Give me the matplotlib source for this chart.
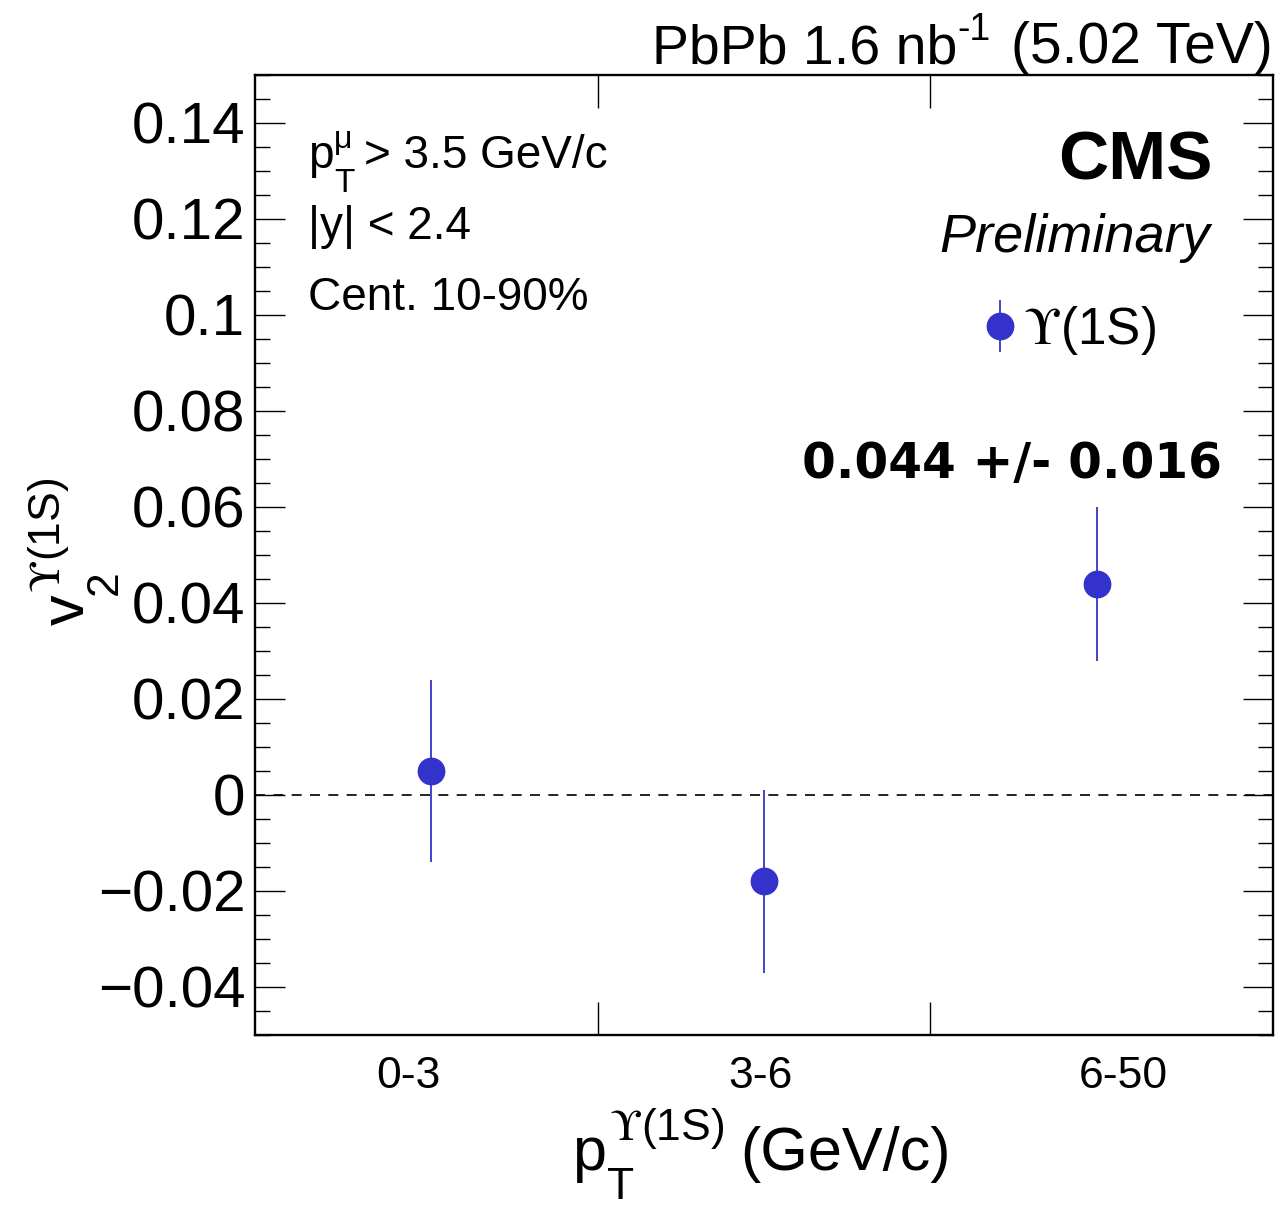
import matplotlib
matplotlib.use('Agg')
import matplotlib.pyplot as plt
from matplotlib.ticker import MultipleLocator, FixedLocator, FuncFormatter

# pT bins and measured v2 of Upsilon(1S)
bins = ['0-3', '3-6', '6-50']
bin_centers = [0.5, 1.5, 2.5]
bin_edges = [1, 2]
label_pos = [0.43, 1.49, 2.58]
v2 = [0.005, -0.018, 0.044]
v2_err = [0.019, 0.019, 0.016]

plt.rcParams['font.family'] = ['Liberation Sans', 'DejaVu Sans']
plt.rcParams['mathtext.fontset'] = 'custom'
plt.rcParams['mathtext.rm'] = 'Liberation Sans'
plt.rcParams['mathtext.it'] = 'Liberation Sans:italic'
plt.rcParams['mathtext.bf'] = 'Liberation Sans:bold'
plt.rcParams['mathtext.sf'] = 'STIXGeneral'

blue = '#3333cc'
ups = r'$\mathsf{ϒ}\mathrm{(1S)}$'

W, H = 1280, 1208
fig = plt.figure(figsize=(W / 100, H / 100), dpi=100)
ax = fig.add_axes([255 / W, 173 / H, 1018 / W, 960 / H])


def put(x, y, s, size, **kw):
    # place a text piece at pixel position (x, baseline y), ROOT-like latex by hand
    kw.setdefault('ha', 'left')
    fig.text(x / W, 1 - y / H, s, fontsize=size, va='baseline', **kw)


def put_rot(x, y, s, size):
    fig.text(x / W, 1 - y / H, s, fontsize=size, ha='left', va='baseline',
             rotation=90, rotation_mode='anchor')


ax.axhline(0, color='black', lw=1.2, dashes=(6, 5), zorder=1)
ax.errorbar(bin_centers, v2, yerr=v2_err, fmt='o', color=blue, ms=19,
            elinewidth=1.3, capsize=0, zorder=3, label=ups)

ax.set_xlim(-0.03, 3.03)
ax.set_ylim(-0.05, 0.15)

# y axis ticks (ROOT style, both sides, inward)
ax.yaxis.set_major_locator(MultipleLocator(0.02))
ax.yaxis.set_minor_locator(MultipleLocator(0.005))
ax.yaxis.set_major_formatter(FuncFormatter(lambda v, p: ('%g' % round(v, 4)).replace('-', '\u2212')))
ax.tick_params(axis='y', which='major', direction='in', length=21.5, width=1.0,
               left=True, right=True, labelsize=42, pad=7)
ax.tick_params(axis='y', which='minor', direction='in', length=10.5, width=1.0,
               left=True, right=True)

# x axis: bin edges as ticks, bin names as labels
ax.xaxis.set_major_locator(FixedLocator(bin_edges))
ax.xaxis.set_major_formatter(FuncFormatter(lambda v, p: ''))
ax.xaxis.set_minor_locator(FixedLocator(label_pos))
ax.set_xticklabels(bins, minor=True)
ax.tick_params(axis='x', which='major', direction='in', length=24, width=1.0,
               top=True, bottom=True)
ax.tick_params(axis='x', which='minor', length=0, labelsize=32, pad=15)

for s in ax.spines.values():
    s.set_linewidth(1.7)

# x title: p_T^{Y(1S)} (GeV/c)
put(572, 1170, 'p', 44)
put(607, 1199, 'T', 32)
put(609, 1140, ups, 32)
put(740, 1170, '(GeV/c)', 44)

# y title: v_2^{Y(1S)}
put_rot(84, 625, 'v', 44)
put_rot(117, 595, '2', 32)
put_rot(60, 593, ups, 32)

# header
put(652, 63, 'PbPb 1.6 nb', 40)
put(957, 40, '-1', 27)
put(1273, 63, '(5.02 TeV)', 41, ha='right')

# annotations
ax.text(0.941, 0.891, 'CMS', transform=ax.transAxes, ha='right', va='baseline',
        fontsize=50, fontweight='bold')
ax.text(0.938, 0.816, 'Preliminary', transform=ax.transAxes, ha='right', va='baseline',
        fontsize=39, style='italic')
put(308, 168, 'p', 33)
put(334, 192, 'T', 24)
put(334, 148, 'μ', 23)
put(364, 168, '> 3.5 GeV/c', 33)
put(308, 239, '|y| < 2.4', 33)
put(308, 310, 'Cent. 10-90%', 33)
ax.text(0.950, 0.580, '0.044 +/- 0.016', transform=ax.transAxes, ha='right', va='baseline',
        fontsize=35, fontweight='bold', family='DejaVu Sans')

ax.legend(loc='center left', bbox_to_anchor=(0.719, 0.734), frameon=False, fontsize=37,
          handlelength=0.5, handletextpad=0.2, borderpad=0, borderaxespad=0)

fig.savefig('out.png', dpi=100)
